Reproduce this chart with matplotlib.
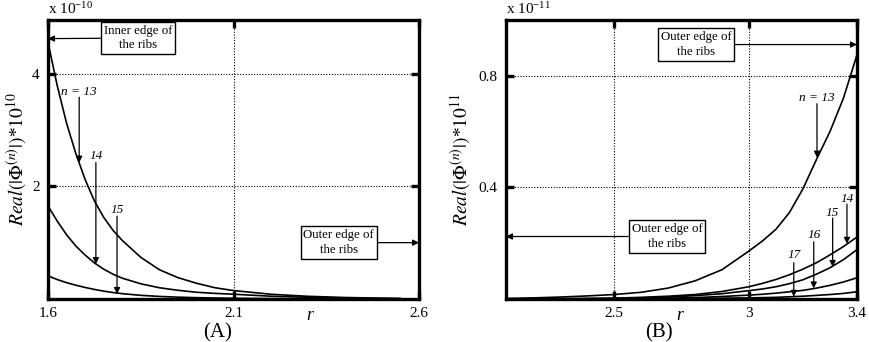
import matplotlib.pyplot as plt

plt.rcParams['font.family'] = ['Liberation Serif', 'DejaVu Serif']
plt.rcParams['mathtext.fontset'] = 'stix'

# Panel A: decay from the inner edge (values x 1e-10)
r_a = [1.6, 1.625, 1.65, 1.675, 1.7, 1.725, 1.75, 1.775, 1.8, 1.85, 1.9,
       1.95, 2.0, 2.05, 2.1, 2.2, 2.3, 2.4, 2.5, 2.55]
phi_a = {
    "13": [4.55, 3.78, 3.12, 2.58, 2.12, 1.74, 1.45, 1.22, 1.04, 0.74, 0.52,
           0.38, 0.28, 0.20, 0.15, 0.085, 0.048, 0.027, 0.015, 0.01],
    "14": [1.65, 1.38, 1.14, 0.94, 0.78, 0.64, 0.53, 0.44, 0.37, 0.27, 0.20,
           0.155, 0.12, 0.10, 0.085, 0.05, 0.03, 0.017, 0.008, 0.005],
    "15": [0.41, 0.345, 0.29, 0.245, 0.205, 0.17, 0.14, 0.115, 0.095, 0.065, 0.046,
           0.033, 0.024, 0.018, 0.013, 0.007, 0.004, 0.002, 0.001, 0.001],
}

# Panel B: growth toward the outer edge (values x 1e-11)
r_b = [2.1, 2.2, 2.3, 2.4, 2.5, 2.6, 2.7, 2.8, 2.9, 3.0, 3.05, 3.1, 3.15,
       3.2, 3.25, 3.3, 3.35, 3.4]
phi_b = {
    "13": [0.002, 0.004, 0.007, 0.011, 0.016, 0.024, 0.039, 0.065, 0.105, 0.172,
           0.208, 0.25, 0.31, 0.395, 0.50, 0.60, 0.72, 0.875],
    "14": [0.0, 0.001, 0.001, 0.002, 0.003, 0.006, 0.01, 0.016, 0.027, 0.044,
           0.056, 0.07, 0.087, 0.107, 0.13, 0.158, 0.188, 0.222],
    "15": [0.0, 0.0, 0.001, 0.001, 0.002, 0.004, 0.007, 0.012, 0.019, 0.03,
           0.036, 0.044, 0.055, 0.069, 0.089, 0.112, 0.141, 0.177],
    "16": [0.0, 0.0, 0.0, 0.001, 0.001, 0.002, 0.003, 0.005, 0.009, 0.014,
           0.017, 0.021, 0.026, 0.031, 0.039, 0.049, 0.061, 0.076],
    "17": [0.0, 0.0, 0.0, 0.0, 0.0, 0.001, 0.001, 0.002, 0.003, 0.004,
           0.005, 0.006, 0.008, 0.01, 0.013, 0.016, 0.02, 0.026],
}

xticks_a = [1.6, 2.1, 2.6]
yticks_a = [2, 4]
xticks_b = [2.5, 3.0, 3.4]
xticklabels_b = ["2.5", "3", "3.4"]
yticks_b = [0.4, 0.8]

# (label, x, label y, arrow start y, arrow tip y)
labels_a = [("n = 13", 1.684, 3.68, 3.58, 2.42),
            ("14", 1.729, 2.53, 2.42, 0.62),
            ("15", 1.786, 1.575, 1.47, 0.09)]
labels_b = [("n = 13", 3.252, 0.72, 0.70, 0.507),
            ("14", 3.363, 0.358, 0.34, 0.198),
            ("15", 3.31, 0.308, 0.29, 0.115),
            ("16", 3.24, 0.229, 0.205, 0.038),
            ("17", 3.166, 0.158, 0.13, 0.008)]

BOX_TEXT = "Outer edge of\nthe ribs"

fig = plt.figure(figsize=(8.7, 3.42), dpi=100)
ax_a = fig.add_axes([0.0552, 0.1257, 0.4264, 0.8158])
ax_b = fig.add_axes([0.5816, 0.1257, 0.4034, 0.8158])


def style_axes(ax):
    for s in ax.spines.values():
        s.set_linewidth(2.4)
    ax.tick_params(direction="in", length=6, width=2.4, top=True, right=True,
                   labelsize=11, pad=6)
    ax.grid(True, linestyle=(0, (1, 1.5)), color="black", linewidth=0.8)


def box_arrow(ax, text, xy, xytext):
    ax.annotate(text, xy=xy, xytext=xytext, ha="center", va="center",
                fontsize=9.3, linespacing=1.3,
                bbox=dict(boxstyle="square,pad=0.22", fc="white", ec="black", lw=1),
                arrowprops=dict(arrowstyle="-|>", color="black", lw=0.9,
                                mutation_scale=9, shrinkA=0, shrinkB=0))


def label_arrow(ax, lab, x, ly, y0, y1):
    ax.text(x, ly, lab, ha="center", va="center", fontsize=9.5, style="italic")
    ax.annotate("", xy=(x, y1), xytext=(x, y0),
                arrowprops=dict(arrowstyle="-|>", color="black", lw=0.9,
                                mutation_scale=9, shrinkA=0, shrinkB=0))


# ---- Panel A ----
for vals in phi_a.values():
    ax_a.plot(r_a, vals, color="black", lw=1.2)
ax_a.set_xlim(1.6, 2.6)
ax_a.set_ylim(0, 4.95)
ax_a.set_xticks(xticks_a)
ax_a.set_xticklabels([str(t) for t in xticks_a])
ax_a.set_yticks(yticks_a)
style_axes(ax_a)
ax_a.text(0.706, -0.03, "r", transform=ax_a.transAxes, ha="center", va="top",
          fontsize=13, style="italic")
fig.text(0.25, 0.0, "(A)", ha="center", va="bottom", fontsize=15)
ax_a.text(0.0, 1.01, "x 10$^{\\mathregular{-10}}$", transform=ax_a.transAxes,
          ha="left", va="bottom", fontsize=11)
ax_a.set_ylabel("$Real(|\\Phi^{(n)}|)$*$10^{10}$", fontsize=14, style="italic",
                labelpad=2)
box_arrow(ax_a, "Inner edge of\nthe ribs", (1.6, 4.62), (1.843, 4.63))
box_arrow(ax_a, BOX_TEXT, (2.6, 1.0), (2.384, 1.0))
for lab in labels_a:
    label_arrow(ax_a, *lab)

# ---- Panel B ----
for vals in phi_b.values():
    ax_b.plot(r_b, vals, color="black", lw=1.2)
ax_b.set_xlim(2.1, 3.4)
ax_b.set_ylim(0, 1.0)
ax_b.set_xticks(xticks_b)
ax_b.set_xticklabels(xticklabels_b)
ax_b.set_yticks(yticks_b)
style_axes(ax_b)
ax_b.text(0.496, -0.03, "r", transform=ax_b.transAxes, ha="center", va="top",
          fontsize=13, style="italic")
fig.text(0.757, 0.0, "(B)", ha="center", va="bottom", fontsize=15)
ax_b.text(0.0, 1.01, "x 10$^{\\mathregular{-11}}$", transform=ax_b.transAxes,
          ha="left", va="bottom", fontsize=11)
ax_b.set_ylabel("$Real(|\\Phi^{(n)}|)$*$10^{11}$", fontsize=14, style="italic",
                labelpad=4)
box_arrow(ax_b, BOX_TEXT, (3.4, 0.912), (2.804, 0.912))
box_arrow(ax_b, BOX_TEXT, (2.1, 0.224), (2.696, 0.224))
for lab in labels_b:
    label_arrow(ax_b, *lab)

fig.savefig("out.png", dpi=100)
